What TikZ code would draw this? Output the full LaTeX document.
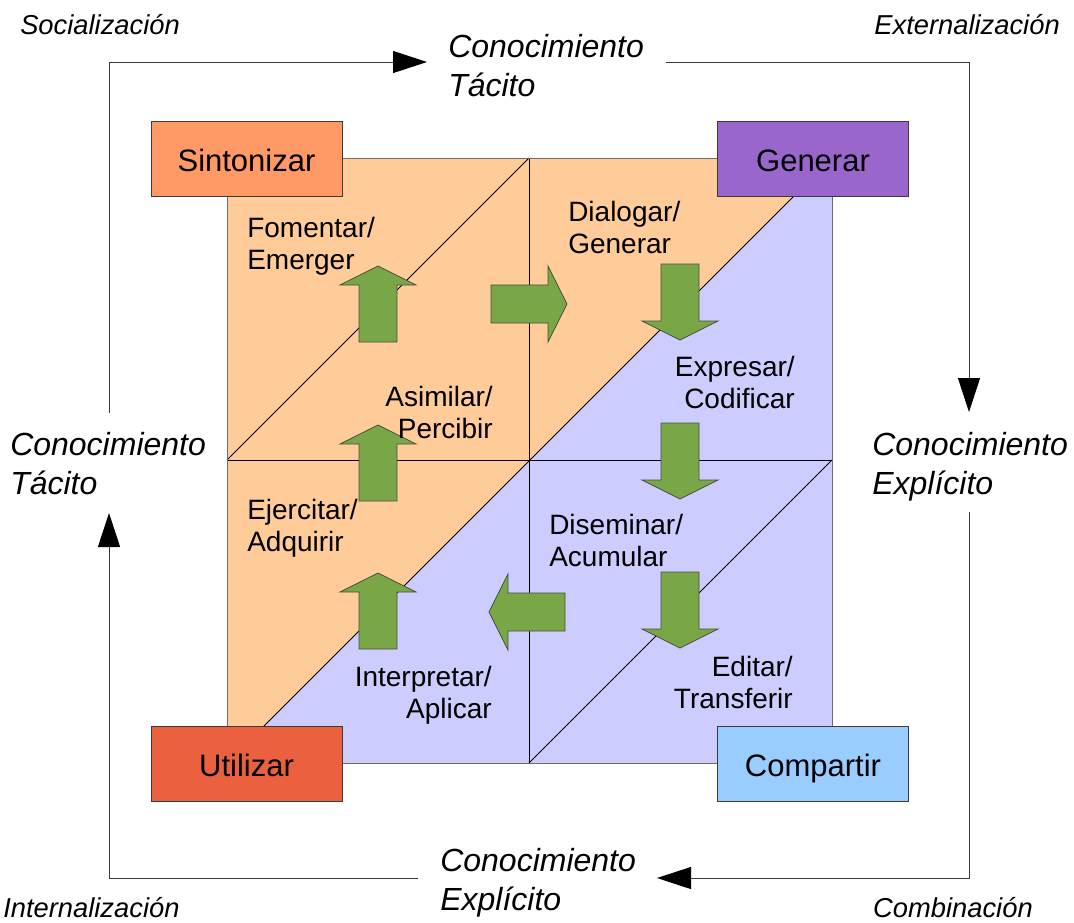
\documentclass[tikz,border=0pt]{standalone}
\usepackage{fontspec}
\setmainfont{Liberation Sans}
\usetikzlibrary{arrows.meta}
\definecolor{peach}{HTML}{FFCC99}
\definecolor{lavender}{HTML}{CCCCFF}
\definecolor{cSinto}{HTML}{FF9966}
\definecolor{cGener}{HTML}{9966CC}
\definecolor{cUtil}{HTML}{EB613F}
\definecolor{cComp}{HTML}{99CCFF}
\definecolor{cGreen}{HTML}{79A646}
\definecolor{cEdge}{HTML}{3A3A3A}
\begin{document}
\begin{tikzpicture}[x=0.75pt,y=-0.75pt,
  gridline/.style={black,line width=0.6pt},
  frameline/.style={draw=gray!85!black,line width=0.75pt},
  cornerbox/.style={draw=cEdge,line width=0.75pt,minimum width=143.25pt,minimum height=56.25pt,
    inner sep=0pt,text height=18.8pt,text depth=0pt,font=\fontsize{23.25}{28}\selectfont},
  stagelabel/.style={inner sep=0pt,font=\fontsize{21}{23.6}\selectfont},
  knowlabel/.style={inner sep=0pt,align=left,anchor=north west,font=\fontsize{24}{29.25}\selectfont\itshape},
  modelabel/.style={inner sep=0pt,font=\fontsize{20.5}{24}\selectfont\itshape},
  loopline/.style={draw=cEdge,line width=0.75pt,-{Triangle[length=25.5pt,width=16.5pt,color=black]}},
  greenarrow/.style={fill=cGreen,draw=cEdge!80!cGreen,line width=0.6pt,line join=miter},
  garrow/.pic={\path[greenarrow] (0,-19) -- (57,-19) -- (57,-38) -- (76,0) -- (57,38) -- (57,19) -- (0,19) -- cycle;}
]
\useasboundingbox (0,0) rectangle (1074,922);

% background halves of the square: tacit (peach) and explicit (lavender)
\fill[peach] (227,158) -- (832,158) -- (227,763) -- cycle;
\fill[lavender] (832,158) -- (832,763) -- (227,763) -- cycle;

% quadrant grid and diagonals
\draw[gridline] (529,158) -- (529,763);
\draw[gridline] (227,460) -- (832,460);
\draw[gridline] (227,460) -- (529,158);
\draw[gridline] (227,763) -- (832,158);
\draw[gridline] (529,763) -- (832,460);
\draw[frameline] (227,158) rectangle (832,763);

% corner boxes
\node[cornerbox,fill=cSinto] (sinto) at (246.5,158.5) {Sintonizar};
\node[cornerbox,fill=cGener] (gener) at (813,158.5) {Generar};
\node[cornerbox,fill=cUtil] (util) at (246.5,763.5) {Utilizar};
\node[cornerbox,fill=cComp] (comp) at (813,763.5) {Compartir};

% green block arrows between the stages
\pic[rotate=90] at (378,342) {garrow};
\pic[rotate=90] at (378,501) {garrow};
\pic[rotate=90] at (378,649) {garrow};
\pic at (491,304) {garrow};
\pic[rotate=-90] at (680,264) {garrow};
\pic[rotate=-90] at (680,423) {garrow};
\pic[rotate=-90] at (680,572) {garrow};
\pic[rotate=180] at (565,612) {garrow};

% stage labels
\node[stagelabel,anchor=north west,align=left] (fomentar) at (247,217) {Fomentar/\\Emerger};
\node[stagelabel,anchor=north east,align=right] (asimilar) at (493,386) {Asimilar/\\Percibir};
\node[stagelabel,anchor=north west,align=left] (dialogar) at (568,201) {Dialogar/\\Generar};
\node[stagelabel,anchor=north east,align=right] (expresar) at (795,356) {Expresar/\\Codificar};
\node[stagelabel,anchor=north west,align=left] (ejercitar) at (247,499) {Ejercitar/\\Adquirir};
\node[stagelabel,anchor=north east,align=right] (interpretar) at (492,666) {Interpretar/\\Aplicar};
\node[stagelabel,anchor=north west,align=left] (diseminar) at (549,514) {Diseminar/\\Acumular};
\node[stagelabel,anchor=north east,align=right] (editar) at (793,656) {Editar/\\Transferir};

% knowledge labels on the outer loop
\node[knowlabel] (ktop) at (448,34) {Conocimiento\\Tácito};
\node[knowlabel] (kright) at (872,432) {Conocimiento\\Explícito};
\node[knowlabel] (kbottom) at (440,848) {Conocimiento\\Explícito};
\node[knowlabel] (kleft) at (10,432) {Conocimiento\\Tácito};

% conversion modes in the corners
\node[modelabel,anchor=north west] (social) at (20,14) {Socialización};
\node[modelabel,anchor=north east] (extern) at (1060,14) {Externalización};
\node[modelabel,anchor=north west] (intern) at (3,897) {Internalización};
\node[modelabel,anchor=north east] (combin) at (1033,897) {Combinación};

% outer loop
\coordinate (a0) at (109,413);
\coordinate (a1) at (109,62);
\coordinate (a2) at (427,62);
\coordinate (b0) at (666,62);
\coordinate (b1) at (969,62);
\coordinate (b2) at (969,412);
\coordinate (c0) at (969,512);
\coordinate (c1) at (969,878);
\coordinate (c2) at (657,878);
\coordinate (d0) at (418,878);
\coordinate (d1) at (109,878);
\coordinate (d2) at (109,513);
\draw[loopline] (a0) -- (a1) -- (a2);
\draw[loopline] (b0) -- (b1) -- (b2);
\draw[loopline] (c0) -- (c1) -- (c2);
\draw[loopline] (d0) -- (d1) -- (d2);
\end{tikzpicture}
\end{document}
